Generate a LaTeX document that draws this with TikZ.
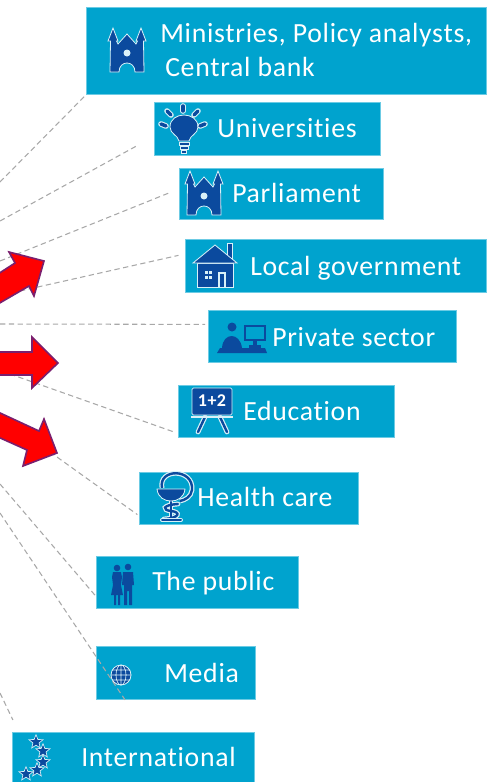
\documentclass[tikz,border=0pt]{standalone}
\usepackage{fontspec}
\setmainfont{Carlito}[LetterSpace=2.6,Ligatures=NoCommon]
\usetikzlibrary{shapes.geometric}
\definecolor{boxblue}{HTML}{00A3CE}
\definecolor{boxedge}{HTML}{6CCBE4}
\definecolor{iconblue}{HTML}{0B4A9E}
\definecolor{arrowedge}{HTML}{7A1F6E}
\definecolor{linkgray}{HTML}{A8A8A8}
\colorlet{iconedge}{white!85!boxblue}
\tikzset{
  sectorbox/.style = {shape=rectangle, draw=boxedge, fill=boxblue, line width=.6pt,
    anchor=north west, inner sep=0pt},
  sectortext/.style = {anchor=base west, inner sep=0pt, text=white, font=\fontsize{20.8}{24}\selectfont},
  linkline/.style = {draw=linkgray, line width=.8pt, dash pattern=on 4pt off 2.6pt},
  bigarrow/.style = {fill=red, draw=arrowedge, line width=1.2pt, line join=miter},
  iconfill/.style = {fill=iconblue, draw=iconedge, line width=.6pt},
  pics/tower/.style = {code={
    \path[iconfill] (-14,-22) -- (-19,-9) -- (-16.5,-9) -- (-17,22) -- (-8,22)
      .. controls (-8,10) and (8,10) .. (8,22) -- (17,22) -- (16.5,-9) -- (19,-9)
      -- (14,-22) -- (9,-9) -- (10.5,-9) -- (9,-6) -- (0,-16) -- (-9,-6) -- (-10.5,-9) -- (-9,-9) -- cycle;
    \fill[iconedge] (0,3) circle (3.5);
  }},
  pics/bulb/.style = {code={
    \path[iconfill] (-5,13) .. controls (-6,7) and (-14,6) .. (-14,-1)
      .. controls (-14,-17) and (14,-17) .. (14,-1) .. controls (14,6) and (6,7) .. (5,13) -- cycle;
    \path[iconfill] (-5,14) rectangle (5,17);
    \path[iconfill] (-4,18) rectangle (4,21);
    \path[iconfill] (-2.5,22) rectangle (2.5,25);
    \foreach \rx/\ry/\tx/\ty in {-1/-22/-1/-17,-17/-17/-13/-13,14/-17/10/-13,-23/-4/-18/-2,21/-4/16/-2}
      {\draw[iconedge, line width=4.2pt, line cap=round] (\rx,\ry) -- (\tx,\ty);
       \draw[iconblue, line width=2.6pt, line cap=round] (\rx,\ry) -- (\tx,\ty);}
  }},
  pics/house/.style = {code={
    \path[iconfill] (12,-22) rectangle (17,-6);
    \path[iconfill] (-18,-2) -- (-18,22) -- (18,22) -- (18,-2) -- cycle;
    \path[iconfill] (-22,-2) -- (0,-20) -- (22,-2) -- cycle;
    \fill[iconedge] (3,22) -- (3,7) -- (11,7) -- (11,22) -- cycle;
    \fill[iconblue] (5,22) -- (5,9) -- (9,9) -- (9,22) -- cycle;
    \foreach \wx in {-10,-6}
      \foreach \wy in {6,11}
        \fill[iconedge] (\wx,\wy) rectangle +(3.2,3.2);
  }},
  pics/desk/.style = {code={
    \fill[iconblue] (-10,-13) circle (4.5);
    \fill[iconblue] (-20,8) .. controls (-19,-8) and (-2,-8) .. (0,8) -- cycle;
    \fill[iconblue] (-25,13) -- (-22,8) -- (23,8) -- (25,13) -- cycle;
    \draw[iconblue, line width=1.8pt] (3,-14) rectangle (23,0);
    \draw[iconblue, line width=2.4pt] (13,0) -- (13,8);
    \draw[iconblue, line width=2.4pt] (7,6.5) -- (19,6.5);
  }},
  pics/board/.style = {code={
    \foreach \lx/\ly in {-7/-14,8/15}
      {\draw[iconedge, line width=3.6pt, line cap=round] (\lx,6) -- (\ly,21);
       \draw[iconblue, line width=1.8pt, line cap=round] (\lx,6) -- (\ly,21);}
    \path[iconfill, rounded corners=1pt] (-20,-23) rectangle (20,4);
    \draw[iconedge, line width=1.4pt] (-21,6) -- (21,6);
    \node[inner sep=0pt, text=white, font=\bfseries\fontsize{13.5}{14}\selectfont] (sum) at (0,-10) {1+2};
  }},
  pics/cup/.style = {code={
    \foreach \cc/\cw in {iconedge/3.6pt,iconblue/1.8pt}
      {\draw[\cc, line width=\cw] (-9,-7) .. controls (-13,-27) and (23,-27) .. (21,-5)
         .. controls (20,2) and (14,5) .. (9,6);
       \draw[\cc, line width=\cw] (0,6) -- (0,24);
       \draw[\cc, line width=\cw, line cap=round] (7,9) .. controls (-9,10) and (-9,15) .. (0,16)
         .. controls (10,17) and (9,23) .. (-7,24);}
    \path[iconfill] (-14,-6) -- (14,-6) .. controls (13,3) and (6,6) .. (0,6)
      .. controls (-6,6) and (-13,3) .. (-14,-6) -- cycle;
    \draw[iconedge, line width=3pt, line cap=round] (-9,25) -- (10,25);
    \draw[iconblue, line width=1.5pt, line cap=round] (-9,25) -- (10,25);
  }},
  pics/couple/.style = {code={
    \fill[iconblue] (-5,-19) circle (3.3);
    \fill[iconblue] (6,-20) circle (3.3);
    \fill[iconblue] (-9,-15) -- (-1,-15) -- (0,-10) -- (-1,-2) -- (1,8) -- (-2,8) -- (-2,18) -- (-4,18)
      -- (-4,8) -- (-6,8) -- (-6,18) -- (-8,18) -- (-8,8) -- (-11,8) -- (-9,-2) -- (-10,-10) -- cycle;
    \fill[iconblue] (1,-15) -- (11,-15) -- (12,-2) -- (10,-2) -- (10,18) -- (7,18) -- (7,4) -- (5,4)
      -- (5,18) -- (2,18) -- (2,-2) -- (0,-2) -- cycle;
  }},
  pics/globe/.style = {code={
    \path[iconfill] (0,0) circle (10);
    \draw[iconedge, line width=.5pt] (-10,0) -- (10,0) (0,-10) -- (0,10)
      (-9,-5) -- (9,-5) (-9,5) -- (9,5)
      (0,0) ellipse (5 and 10);
  }},
}
\begin{document}
\begin{tikzpicture}[x=.75pt, y=-.75pt]
  \useasboundingbox (0,0) rectangle (486,782);
  % boxes
  \node[sectorbox, minimum width=300pt, minimum height=65.25pt] (ministries) at (86,7) {};
  \node[sectorbox, minimum width=169.5pt, minimum height=39.75pt] (universities) at (154,102) {};
  \node[sectorbox, minimum width=153pt, minimum height=38.25pt] (parliament) at (179,168) {};
  \node[sectorbox, minimum width=225.75pt, minimum height=39.75pt] (localgov) at (185,239) {};
  \node[sectorbox, minimum width=186pt, minimum height=39pt] (privatesec) at (208,310) {};
  \node[sectorbox, minimum width=162pt, minimum height=39pt] (education) at (178,385) {};
  \node[sectorbox, minimum width=164.25pt, minimum height=39pt] (healthcare) at (139,472) {};
  \node[sectorbox, minimum width=151.5pt, minimum height=39pt] (public) at (96,556) {};
  \node[sectorbox, minimum width=119.25pt, minimum height=39.75pt] (media) at (96,646) {};
  \node[sectorbox, minimum width=181.5pt, minimum height=37.5pt] (international) at (12,732) {};
  % texts
  \node[sectortext] (ministriestext) at (160,42) {Ministries, Policy analysts,};
  \node[sectortext] (banktext) at (165,76) {Central bank};
  \node[sectortext] (universitiestext) at (217,137) {Universities};
  \node[sectortext] (parliamenttext) at (232,202) {Parliament};
  \node[sectortext] (localgovtext) at (250,275) {Local government};
  \node[sectortext] (privatesectext) at (272,346) {Private sector};
  \node[sectortext] (educationtext) at (243,420) {Education};
  \node[sectortext] (healthcaretext) at (197,506) {Health care};
  \node[sectortext] (publictext) at (152,590) {The public};
  \node[sectortext] (mediatext) at (164,682) {Media};
  \node[sectortext] (internationaltext) at (81,766) {International};
  % free ends of the dashed lines
  \coordinate (m0) at (0,182);
  \coordinate (u0) at (0,221);
  \coordinate (p0) at (0,261);
  \coordinate (l0) at (20,291);
  \coordinate (s0) at (0,324);
  \coordinate (e0) at (10,374);
  \coordinate (h0) at (50,452);
  \coordinate (t0) at (0,484);
  \coordinate (d0) at (0,513);
  \coordinate (i0) at (0,693);
  \draw[linkline, shorten >=1.5pt] (m0) -- (ministries.south west);
  \draw[linkline, shorten >=14pt] (u0) -- ([yshift=-5.6pt]universities.west);
  \draw[linkline, shorten >=8pt] (p0) -- ([yshift=3.75pt]parliament.west);
  \draw[linkline, shorten >=5pt] (l0) -- ([yshift=9pt]localgov.west);
  \draw[linkline, shorten >=2.25pt] (s0) -- ([yshift=9pt]privatesec.west);
  \draw[linkline, shorten >=2.25pt] (e0) -- ([yshift=-16.5pt]education.west);
  \draw[linkline, shorten >=1.5pt] (h0) -- ([yshift=-13pt]healthcare.west);
  \draw[linkline] (t0) -- ([yshift=-10.5pt]public.west);
  \draw[linkline] (d0) -- ([xshift=21.75pt]media.south west);
  \draw[linkline, shorten >=10pt] (i0) -- ([xshift=5pt]international.north west);
  % red arrows
  \draw[bigarrow] (-2,274) -- (15,263) -- (9,252) -- (44,261) -- (34,296) -- (29,286) -- (-2,304);
  \draw[bigarrow] (-2,352) -- (32,352) -- (32,337) -- (58,363) -- (32,388) -- (32,375) -- (-2,375);
  \draw[bigarrow] (-2,412) -- (39,431) -- (44,419) -- (57,453) -- (23,466) -- (27,450) -- (-2,437);
  % icons
  \pic at (127,50) {tower};
  \pic at (184,128) {bulb};
  \pic at (204,193) {tower};
  \pic at (215,265) {house};
  \pic at (242,340) {desk};
  \pic at (212,411) {board};
  \pic at (171,495) {cup};
  \pic at (122,587) {couple};
  \pic at (121,675) {globe};
  \foreach \sx/\sy/\sn in {36/742/a,43/751/b,43/762/c,37/770/d,26/774/e}
    \node[star, star points=5, star point ratio=2.3, minimum size=11pt, inner sep=0pt,
      fill=iconblue, draw=iconedge, line width=.5pt] (star\sn) at (\sx,\sy) {};
\end{tikzpicture}
\end{document}
